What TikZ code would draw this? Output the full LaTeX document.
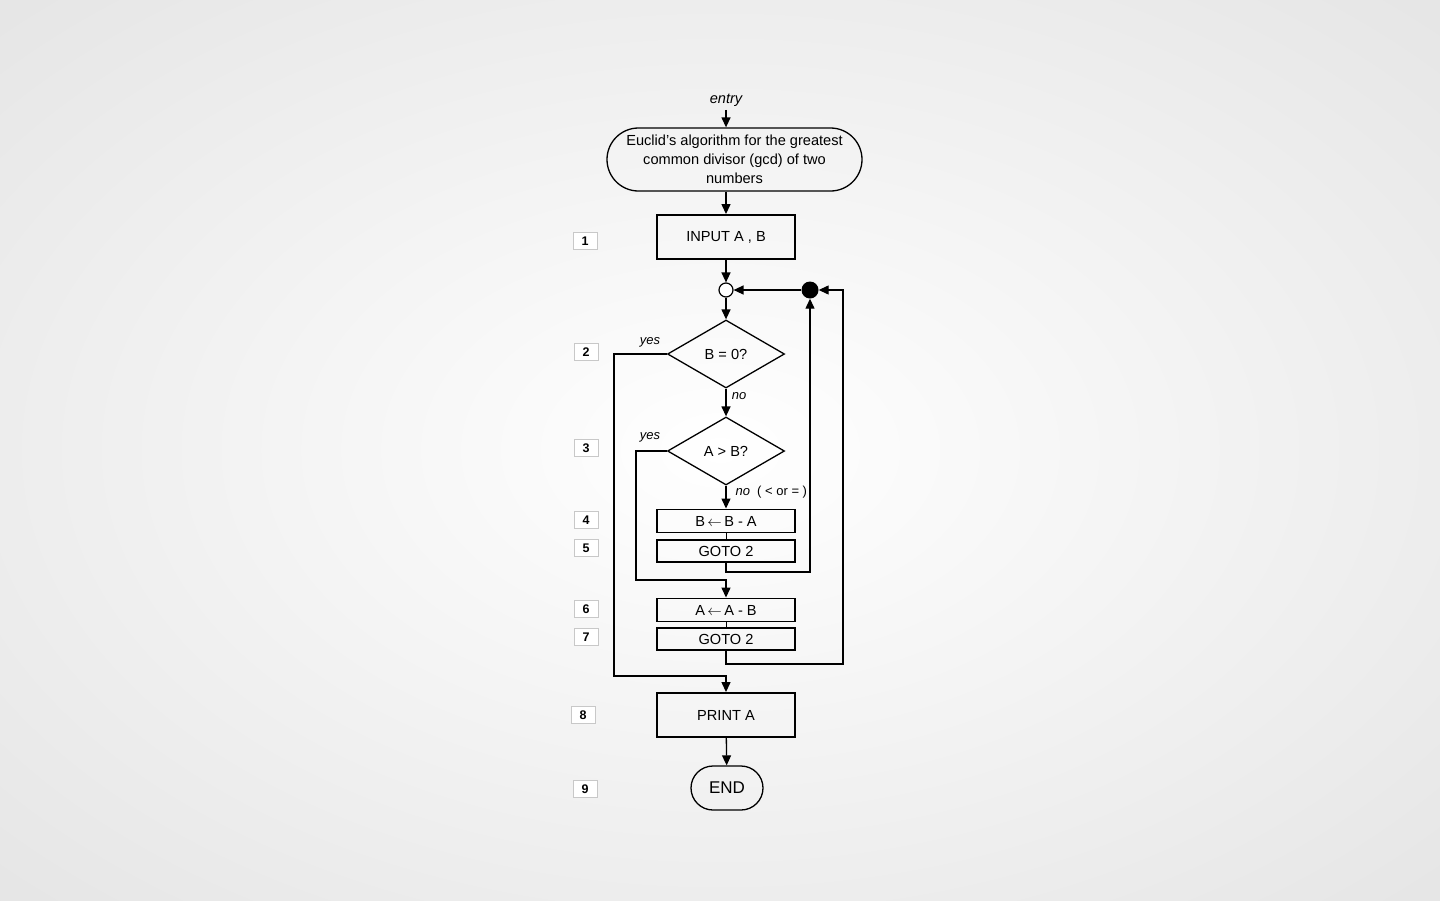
\documentclass[tikz,border=0pt]{standalone}
\usepackage{fontspec}
\setmainfont{Liberation Sans}
\usetikzlibrary{arrows.meta,calc,positioning,shapes.geometric,shapes.misc}
\definecolor{bgedge}{RGB}{204,204,204}
\definecolor{tagline}{RGB}{200,200,200}
\tikzset{
  flow/.style={line width=1.3pt, -{Triangle[length=10pt,width=9pt]}},
  link/.style={line width=0.8pt},
  terminal/.style={draw, rounded rectangle, line width=1.3pt, inner sep=0pt,
    align=center, font=\fontsize{14.6}{19}\selectfont},
  stepbox/.style={draw, rectangle, line width=1.9pt, minimum width=138pt,
    minimum height=44pt, inner sep=0pt, font=\fontsize{14.6}{16}\selectfont},
  slimbox/.style={stepbox, minimum height=23pt},
  test/.style={draw, diamond, line width=1.3pt, inner sep=0pt, minimum width=117pt,
    minimum height=68pt, font=\fontsize{14.6}{16}\selectfont},
  tag/.style={draw=tagline, fill=white, line width=0.8pt, minimum width=24pt,
    minimum height=17pt, inner sep=0pt, font=\fontsize{12.5}{13}\selectfont\bfseries},
  remark/.style={font=\fontsize{13}{14}\selectfont\itshape},
}
\newcommand{\assign}{\,$\leftarrow$\,}

\begin{document}
\begin{tikzpicture}[x=1pt, y=-1pt]
% Backdrop
\useasboundingbox (0,0) rectangle (1440,900);
\begin{scope}
  \clip (0,0) rectangle (1440,900);
  \shade[inner color=white, outer color=bgedge] (-1316,-823) rectangle (2756,1723);
\end{scope}
% Main column
\node[remark, font=\fontsize{14.6}{16}\selectfont\itshape] (entry) at (726,100) {entry};
\node[terminal, minimum width=255pt, minimum height=63pt] (title) at (734.5,159.5)
  {Euclid's algorithm for the greatest\\common divisor (gcd) of two\\numbers};
\node[stepbox] (input) at (726,237) {INPUT A , B};
\node[circle, draw, fill=white, line width=1.2pt, minimum size=14pt, inner sep=0pt] (join) at (726,290) {};
\node[circle, fill=black, minimum size=17pt, inner sep=0pt] (dot) at (810,290) {};
\node[test] (zero) at (726,354) {B = 0?};
\node[test] (bigger) at (726,451) {A > B?};
\node[slimbox] (subb) at (726,521) {B\assign B - A};
\node[slimbox, minimum height=22pt] (gotoa) at (726,551) {GOTO 2};
\node[slimbox] (suba) at (726,610) {A\assign A - B};
\node[slimbox, minimum height=22pt] (gotob) at (726,639) {GOTO 2};
\node[stepbox] (print) at (726,715) {PRINT A};
\node[terminal, minimum width=72pt, minimum height=44pt, font=\fontsize{17}{18}\selectfont] (stop) at (727,788) {END};
% Branch remarks
\node[remark] (yeszero) at (650,342) {yes};
\node[remark] (nozero) at (739,396) {no};
\node[remark] (yesbig) at (650,437) {yes};
\node[anchor=west, font=\fontsize{13}{14}\selectfont] (nobig) at (732,492)
  {{\itshape no}\ \ ( < or = )};
% Corner points of the loops
\coordinate (back1) at (810,572);
\coordinate (back2) at (843,664);
\coordinate (skip) at (636,580);
\coordinate (done) at (614,676);
% Connectors
\draw[flow] (entry) -- (entry |- title.north);
\draw[flow] (input |- title.south) -- (input);
\draw[flow] (input) -- (join);
\draw[flow] (dot) -- (join);
\draw[flow] (join) -- (zero);
\draw[flow] (zero) -- (bigger);
\draw[flow] (bigger) -- (subb);
\draw[link] (subb) -- (gotoa);
\draw[flow] (gotoa.south) |- (back1) -- (dot);
\draw[flow] (bigger.west) -| (skip) -| (suba.north);
\draw[link] (suba) -- (gotob);
\draw[flow] (gotob.south) |- (back2) |- (dot);
\draw[flow] (zero.west) -| (done) -| (print.north);
\draw[flow] (print) -- (stop);
% Step numbers
\foreach \n/\x/\y in {1/585/241, 2/586/352, 3/586/448, 4/586/520, 5/586/548,
                      6/586/609, 7/586/637, 8/583/715, 9/585/789}
  \node[tag] (tag\n) at (\x,\y) {\n};
\end{tikzpicture}
\end{document}
